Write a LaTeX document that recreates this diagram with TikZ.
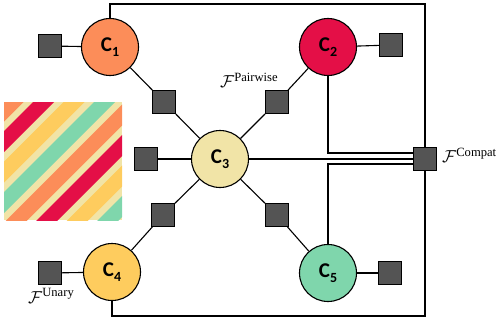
\documentclass[tikz,border=0pt]{standalone}
\usepackage{amsmath}
\usepackage{fontspec}
\setmainfont{Liberation Serif}
\newfontfamily\labelfont{Carlito}
\usetikzlibrary{calc}

\definecolor{corange}{HTML}{FC8D59}
\definecolor{cred}{HTML}{E40F47}
\definecolor{cyellow}{HTML}{FECC5E}
\definecolor{cgreen}{HTML}{7FD6AC}
\definecolor{ccream}{HTML}{F1E4A7}
\definecolor{factorgray}{HTML}{545454}

\tikzset{
  var/.style={circle, draw=black, line width=1.1pt, minimum size=57pt, inner sep=0pt,
    font=\labelfont\bfseries\fontsize{21}{21}\selectfont},
  factor/.style={rectangle, draw=black, fill=factorgray, line width=0.8pt,
    minimum size=23pt, inner sep=0pt},
  edge/.style={line width=1.1pt, draw=black},
  flabel/.style={inner sep=0pt, font=\fontsize{18}{18}\selectfont},
}
\newcommand{\cname}[1]{C\raisebox{-0.22em}{\fontsize{14}{14}\selectfont #1}}

\begin{document}
\begin{tikzpicture}[x=1pt, y=-1pt]
  \useasboundingbox (0,0) rectangle (503,321);

  % striped colour swatch
  \begin{scope}
    \clip (4,102) rectangle (122,220);
    \fill[ccream] (4,102) rectangle (122,220);
    \foreach \s/\c in {74/cgreen, 104.5/corange, 135/cred, 165.5/cyellow, 196/cgreen,
                       226.5/corange, 257/cred, 287.5/cyellow, 318/cgreen} {
      \fill[\c] (\s-90,90) -- (\s+21-90,90) -- (\s+21-240,240) -- (\s-240,240) -- cycle;
    }
  \end{scope}

  % variables
  \node[var, fill=corange] (c1) at (110,47) {\cname{1}};
  \node[var, fill=cred]    (c2) at (328,47) {\cname{2}};
  \node[var, fill=ccream]  (c3) at (220,159) {\cname{3}};
  \node[var, fill=cyellow] (c4) at (112,272) {\cname{4}};
  \node[var, fill=cgreen]  (c5) at (328,273) {\cname{5}};

  % unary factors
  \node[factor] (u1) at (50,46) {};
  \node[factor] (u2) at (391,45) {};
  \node[factor] (u3) at (146,159) {};
  \node[factor] (u4) at (50,273) {};
  \node[factor] (u5) at (390,273) {};

  % pairwise factors
  \node[factor] (p13) at (164,102) {};
  \node[factor] (p23) at (277,102) {};
  \node[factor] (p34) at (163,215) {};
  \node[factor] (p35) at (277,215) {};

  % compatibility factor
  \node[factor] (fc) at (425,159) {};
  \coordinate (tr) at (425,4);
  \coordinate (br) at (425,316);

  % unary edges
  \draw[edge] (u1) -- (c1);
  \draw[edge] (u2) -- (c2);
  \draw[edge] (u3) -- (c3);
  \draw[edge] (u4) -- (c4);
  \draw[edge] (u5) -- (c5);

  % pairwise edges
  \draw[edge] (c1) -- (p13) -- (c3);
  \draw[edge] (c2) -- (p23) -- (c3);
  \draw[edge] (c3) -- (p34) -- (c4);
  \draw[edge] (c3) -- (p35) -- (c5);

  % compatibility edges
  \draw[edge] (c1.north) |- (tr) -- (fc.north);
  \draw[edge] (fc.south) -- (br) -| (c4.south);
  \draw[edge] (c2.south) |- ($(fc.west)+(0,-6)$);
  \draw[edge] (c3.east) -- (fc.west);
  \draw[edge] (c5.north) |- ($(fc.west)+(0,5)$);

  % factor labels
  \node[flabel, anchor=west] (lpair) at (220,80) {$\mathcal{F}^{\text{Pairwise}}$};
  \node[flabel, anchor=west] (lcomp) at (442,155) {$\mathcal{F}^{\text{Compat}}$};
  \node[flabel, anchor=west] (lun) at (28,296) {$\mathcal{F}^{\text{Unary}}$};
\end{tikzpicture}
\end{document}
